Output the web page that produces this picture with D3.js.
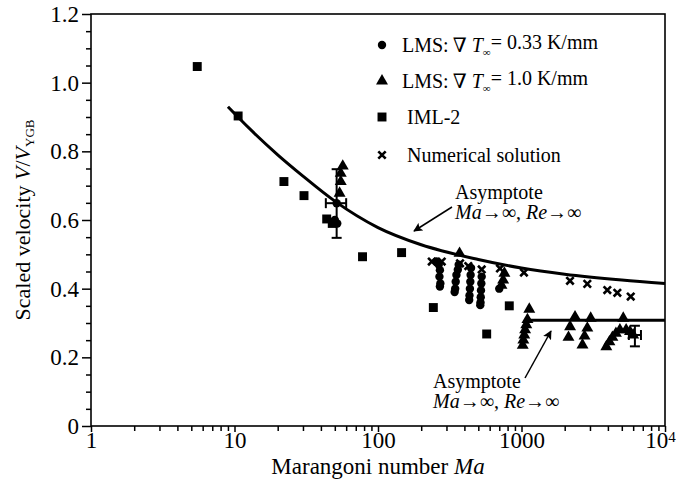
<!DOCTYPE html>
<html><head><meta charset="utf-8">
<script src="https://cdn.jsdelivr.net/npm/d3@7"></script>
<style>
body{margin:0;background:#fff}
svg{display:block}
text{font-family:"Liberation Serif","Times New Roman",Times,"DejaVu Serif",serif;fill:#000}
</style>
</head><body>
<svg id="chart" width="679" height="485"></svg>
<script>
// Asymptote curve for Ma -> inf, Re -> inf (upper) and the lower asymptote level
const curveMa = [9, 10, 20, 30, 50, 100, 200, 500, 1000, 2000, 5000, 10000];
const curveV  = [0.93, 0.91, 0.79, 0.728, 0.655, 0.578, 0.528, 0.485, 0.46, 0.442, 0.425, 0.415];
const lowerMa = [1150, 10000];
const lowerV  = [0.308, 0.308];

// LMS, grad T = 0.33 K/mm
const lms033Ma = [50, 52, 51.5,
  255, 265, 270, 268, 272, 270,
  365, 360, 352, 348, 345, 342,
  445, 442, 440, 437, 434, 432,
  528, 525, 522, 520, 518, 516,
  700];
const lms033V = [0.60, 0.59, 0.649,
  0.479, 0.470, 0.454, 0.435, 0.415, 0.406,
  0.470, 0.455, 0.440, 0.420, 0.400, 0.390,
  0.460, 0.440, 0.420, 0.400, 0.380, 0.367,
  0.435, 0.415, 0.395, 0.375, 0.360, 0.352,
  0.40];

// LMS, grad T = 1.0 K/mm
const lms10Ma = [56.8, 55, 55, 54,
  370, 760, 745, 725,
  1133, 1100, 1080, 1060, 1045, 1030, 1020,
  2360, 2180, 2125,
  3035, 2875, 2750, 2660,
  3900, 4100, 4300, 4550, 4850, 5118, 5360, 5700, 6000];
const lms10V = [0.757, 0.736, 0.712, 0.678,
  0.503, 0.445, 0.425, 0.41,
  0.34, 0.31, 0.295, 0.28, 0.265, 0.25, 0.235,
  0.318, 0.289, 0.258,
  0.314, 0.285, 0.262, 0.236,
  0.231, 0.245, 0.258, 0.27, 0.28, 0.314, 0.28, 0.275, 0.265];

// IML-2 flight data
const imlMa = [5.5, 10.6, 22.1, 30.5, 43.9, 48, 78, 146, 243, 572, 822];
const imlV  = [1.047, 0.903, 0.712, 0.671, 0.603, 0.59, 0.493, 0.505, 0.345, 0.268, 0.35];

// Numerical solution
const numMa = [237, 278, 373, 426, 528, 708, 1040, 2178, 2875, 3963, 4654, 5770];
const numV  = [0.479, 0.479, 0.474, 0.466, 0.456, 0.459, 0.447, 0.423, 0.414, 0.396, 0.388, 0.377];

// Error bars: centre, vertical range, horizontal range
const errMa   = [51.5, 6170];
const errV    = [0.649, 0.265];
const errVlo  = [0.548, 0.232];
const errVhi  = [0.748, 0.292];
const errMaLo = [43.3, 5600];
const errMaHi = [60, 6800];

// Axis ticks
const xMajor = [1, 10, 100, 1000, 10000];
const xMinor = [];
[1, 10, 100, 1000].forEach(d => { for (let k = 2; k <= 9; k++) xMinor.push(d * k); });
const yMajor = [0, 0.2, 0.4, 0.6, 0.8, 1.0, 1.2];
const yMinor = d3.range(0, 1.2001, 0.05).filter(v => Math.abs(Math.round(v * 5) - v * 5) > 1e-6);

const svg = d3.select("#chart");
const L = 91, R = 665, T = 14, B = 426;
const x = d3.scaleLog().domain([1, 1e4]).range([L, R]);
const y = d3.scaleLinear().domain([0, 1.2]).range([B, T]);
const serif = '"Liberation Serif","Times New Roman",Times,"DejaVu Serif",serif';

// Axes
const yAx = svg.append("g").attr("transform", `translate(${L},0)`)
  .call(d3.axisLeft(y).tickValues(yMajor).tickSize(9).tickPadding(3)
    .tickFormat(d => d === 0 ? "0" : d3.format(".1f")(d)));
const yAxMin = svg.append("g").attr("transform", `translate(${L},0)`)
  .call(d3.axisLeft(y).tickValues(yMinor).tickSize(5).tickFormat(""));
const xAx = svg.append("g").attr("transform", `translate(0,${B})`)
  .call(d3.axisBottom(x).tickValues(xMajor).tickSize(6).tickPadding(0)
    .tickFormat(d => d === 10000 ? "" : String(d)));
const xAxMin = svg.append("g").attr("transform", `translate(0,${B})`)
  .call(d3.axisBottom(x).tickValues(xMinor).tickSize(5).tickFormat(""));
[yAx, yAxMin, xAx, xAxMin].forEach(g => {
  g.attr("font-family", null);
  g.select(".domain").remove();
  g.selectAll("line").attr("stroke", "#000").attr("stroke-width", 1.5);
  g.selectAll("text").style("font-family", serif).style("font-size", "23px").attr("fill", "#000");
});
// 10^4 label with superscript, nudged left so it stays inside the page
const t4 = xAx.selectAll(".tick").filter(d => d === 10000).select("text");
t4.text(null).attr("x", -5);
t4.append("tspan").text("10");
t4.append("tspan").attr("dy", "-0.45em").style("font-size", "15px").text("4");

// Frame
svg.append("rect").attr("x", L).attr("y", T).attr("width", R - L).attr("height", B - T)
  .attr("fill", "none").attr("stroke", "#000").attr("stroke-width", 1.6);

// Axis titles
const xt = svg.append("text").attr("x", (L + R) / 2).attr("y", 474)
  .attr("text-anchor", "middle").style("font-size", "23px");
xt.append("tspan").text("Marangoni number ");
xt.append("tspan").style("font-style", "italic").text("Ma");

const yt = svg.append("text").attr("transform", `translate(30,${(T + B) / 2}) rotate(-90)`)
  .attr("text-anchor", "middle").style("font-size", "22px");
yt.append("tspan").text("Scaled velocity ");
yt.append("tspan").style("font-style", "italic").text("V");
yt.append("tspan").text("/");
yt.append("tspan").style("font-style", "italic").text("V");
yt.append("tspan").attr("dy", "0.3em").style("font-size", "13px").text("YGB");

// Curves
const line = d3.line().x(d => x(d[0])).y(d => y(d[1])).curve(d3.curveMonotoneX);
svg.append("path").datum(curveMa.map((m, i) => [m, curveV[i]]))
  .attr("d", line).attr("fill", "none").attr("stroke", "#000").attr("stroke-width", 3);
svg.append("path").datum(lowerMa.map((m, i) => [m, lowerV[i]]))
  .attr("d", line).attr("fill", "none").attr("stroke", "#000").attr("stroke-width", 3);

// Marker drawing helpers
const tri = d3.symbol().type(d3.symbolTriangle).size(62);
const sq = d3.symbol().type(d3.symbolSquare).size(80);
function drawCircles(g, ms, vs) {
  g.selectAll(null).data(ms.map((m, i) => [m, vs[i]])).join("circle")
    .attr("cx", d => x(d[0])).attr("cy", d => y(d[1])).attr("r", 4.2).attr("fill", "#000");
}
function drawSymbols(g, ms, vs, sym) {
  g.selectAll(null).data(ms.map((m, i) => [m, vs[i]])).join("path")
    .attr("d", sym).attr("transform", d => `translate(${x(d[0])},${y(d[1])})`).attr("fill", "#000");
}
function crossPath(s) { return `M${-s},${-s}L${s},${s}M${-s},${s}L${s},${-s}`; }
function drawCrosses(g, ms, vs) {
  g.selectAll(null).data(ms.map((m, i) => [m, vs[i]])).join("path")
    .attr("d", crossPath(3.7)).attr("transform", d => `translate(${x(d[0])},${y(d[1])})`)
    .attr("stroke", "#000").attr("stroke-width", 2.6).attr("fill", "none");
}

const gm = svg.append("g");
drawSymbols(gm, imlMa, imlV, sq);
drawCircles(gm, lms033Ma, lms033V);
drawSymbols(gm, lms10Ma, lms10V, tri);
drawCrosses(gm, numMa, numV);

// Error bars
const ge = svg.append("g").attr("stroke", "#000").attr("stroke-width", 2);
errMa.forEach((m, i) => {
  const cx = x(m), cy = y(errV[i]);
  ge.append("line").attr("x1", cx).attr("x2", cx).attr("y1", y(errVlo[i])).attr("y2", y(errVhi[i]));
  ge.append("line").attr("x1", cx - 5).attr("x2", cx + 5).attr("y1", y(errVlo[i])).attr("y2", y(errVlo[i]));
  ge.append("line").attr("x1", cx - 5).attr("x2", cx + 5).attr("y1", y(errVhi[i])).attr("y2", y(errVhi[i]));
  ge.append("line").attr("x1", x(errMaLo[i])).attr("x2", x(errMaHi[i])).attr("y1", cy).attr("y2", cy);
  ge.append("line").attr("x1", x(errMaLo[i])).attr("x2", x(errMaLo[i])).attr("y1", cy - 5).attr("y2", cy + 5);
  ge.append("line").attr("x1", x(errMaHi[i])).attr("x2", x(errMaHi[i])).attr("y1", cy - 5).attr("y2", cy + 5);
});

// Legend
const legX = 382, legRows = [45, 81, 117, 155];
const lg = svg.append("g");
lg.append("circle").attr("cx", legX).attr("cy", legRows[0]).attr("r", 4.2).attr("fill", "#000");
lg.append("path").attr("d", tri).attr("transform", `translate(${legX},${legRows[1]})`).attr("fill", "#000");
lg.append("path").attr("d", sq).attr("transform", `translate(${legX},${legRows[2]})`).attr("fill", "#000");
lg.append("path").attr("d", crossPath(3.7)).attr("transform", `translate(${legX},${legRows[3]})`)
  .attr("stroke", "#000").attr("stroke-width", 2.6);
function lmsLabel(yy, val) {
  const t = lg.append("text").attr("x", 402).attr("y", yy + 7).style("font-size", "20px");
  t.append("tspan").text("LMS:\u2009\u2207 ");
  t.append("tspan").style("font-style", "italic").text("T");
  t.append("tspan").attr("dy", "0.35em").style("font-size", "11px").text("\u221E");
  t.append("tspan").attr("dy", "-0.35em").text("= " + val + " K/mm");
}
lmsLabel(legRows[0], "0.33");
lmsLabel(legRows[1], "1.0");
lg.append("text").attr("x", 407).attr("y", legRows[2] + 7).style("font-size", "20px").text("IML-2");
lg.append("text").attr("x", 407).attr("y", legRows[3] + 7).style("font-size", "20px").text("Numerical solution");

// Annotations
svg.append("defs").append("marker").attr("id", "ah").attr("viewBox", "0 0 10 10")
  .attr("refX", 9).attr("refY", 5).attr("markerWidth", 9).attr("markerHeight", 9)
  .attr("markerUnits", "userSpaceOnUse").attr("orient", "auto")
  .append("path").attr("d", "M0,0L10,5L0,10L2,5Z").attr("fill", "#000");
function annotation(tx, ty, ax1, ay1, ax2, ay2) {
  svg.append("text").attr("x", tx).attr("y", ty).style("font-size", "20px").text("Asymptote");
  const t2 = svg.append("text").attr("x", tx).attr("y", ty + 20).style("font-size", "20px");
  t2.append("tspan").style("font-style", "italic").text("Ma");
  t2.append("tspan").text("\u2192\u221E, ");
  t2.append("tspan").style("font-style", "italic").text("Re");
  t2.append("tspan").text("\u2192\u221E");
  svg.append("line").attr("x1", ax1).attr("y1", ay1).attr("x2", ax2).attr("y2", ay2)
    .attr("stroke", "#000").attr("stroke-width", 1.5).attr("marker-end", "url(#ah)");
}
annotation(455, 199, 452, 207, 414, 231);
annotation(433, 388, 525, 378, 551, 331);
</script>
</body></html>
